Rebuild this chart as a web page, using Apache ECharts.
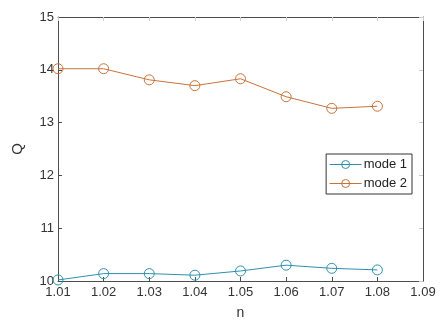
<!DOCTYPE html>
<html><head><meta charset="utf-8">
<script src="https://cdn.jsdelivr.net/npm/echarts@6/dist/echarts.min.js"></script>
<style>html,body{margin:0;padding:0;background:#fff}#c{width:443px;height:325px}</style>
</head><body><div id="c"></div>
<script>
var categories = ['1.01','1.02','1.03','1.04','1.05','1.06','1.07','1.08','1.09'];
var mode1 = [10.02, 10.14, 10.14, 10.11, 10.19, 10.30, 10.24, 10.21];
var mode2 = [14.02, 14.02, 13.81, 13.70, 13.83, 13.49, 13.27, 13.31];
var yTicks = {min: 10, max: 15, interval: 1};

var chart = echarts.init(document.getElementById('c'));
var axisColor = '#4d4d4d';
var font = 'Liberation Sans, Arial, sans-serif';
var c1 = '#2f8fae', c2 = '#c8723a';
chart.setOption({
  animation: false,
  grid: {left: 58, right: 20, top: 17, bottom: 40, containLabel: false},
  legend: {
    data: ['mode 1', 'mode 2'],
    orient: 'vertical',
    right: 31, top: 154,
    itemWidth: 32, itemHeight: 10, itemGap: 6,
    padding: [4, 5, 4, 3],
    borderColor: '#333', borderWidth: 1,
    backgroundColor: '#fff',
    itemStyle: {borderWidth: 1, color: 'rgba(255,255,255,0)'},
    lineStyle: {width: 1},
    textStyle: {fontFamily: font, fontSize: 13, color: '#222', padding: [0,0,0,-3]}
  },
  xAxis: [{
    type: 'category', data: categories, boundaryGap: false,
    name: 'n', nameLocation: 'middle', nameGap: 25,
    nameTextStyle: {fontFamily: font, fontSize: 14, color: '#333'},
    axisLine: {lineStyle: {color: axisColor, width: 1}},
    axisTick: {inside: true, length: 4, alignWithLabel: true, lineStyle: {color: axisColor}},
    axisLabel: {fontFamily: font, fontSize: 13, color: '#333', margin: 5, interval: 0},
    splitLine: {show: false}
  }, {
    type: 'category', data: categories, boundaryGap: false, position: 'top',
    axisLine: {lineStyle: {color: axisColor, width: 1}},
    axisTick: {inside: true, length: 4, lineStyle: {color: '#ccc'}},
    axisLabel: {show: false}
  }],
  yAxis: [{
    type: 'value', min: yTicks.min, max: yTicks.max, interval: yTicks.interval,
    name: 'Q', nameLocation: 'middle', nameGap: 33, nameRotate: 90,
    nameTextStyle: {fontFamily: font, fontSize: 15, color: '#333'},
    axisLine: {show: true, lineStyle: {color: axisColor, width: 1}},
    axisTick: {show: true, inside: true, length: 4, lineStyle: {color: axisColor}},
    axisLabel: {fontFamily: font, fontSize: 13, color: '#333', margin: 4},
    splitLine: {show: false}
  }, {
    type: 'value', min: yTicks.min, max: yTicks.max, interval: yTicks.interval, position: 'right',
    axisLine: {show: true, lineStyle: {color: axisColor, width: 1}},
    axisTick: {show: true, inside: true, length: 4, lineStyle: {color: '#ccc'}},
    axisLabel: {show: false},
    splitLine: {show: false}
  }],
  series: [{
    name: 'mode 1', type: 'line', data: mode1,
    symbol: 'circle', symbolSize: 10,
    itemStyle: {color: 'rgba(255,255,255,0)', borderColor: c1, borderWidth: 1},
    lineStyle: {color: c1, width: 1}
  }, {
    name: 'mode 2', type: 'line', data: mode2,
    symbol: 'circle', symbolSize: 10,
    itemStyle: {color: 'rgba(255,255,255,0)', borderColor: c2, borderWidth: 1},
    lineStyle: {color: c2, width: 1}
  }]
});
</script></body></html>
